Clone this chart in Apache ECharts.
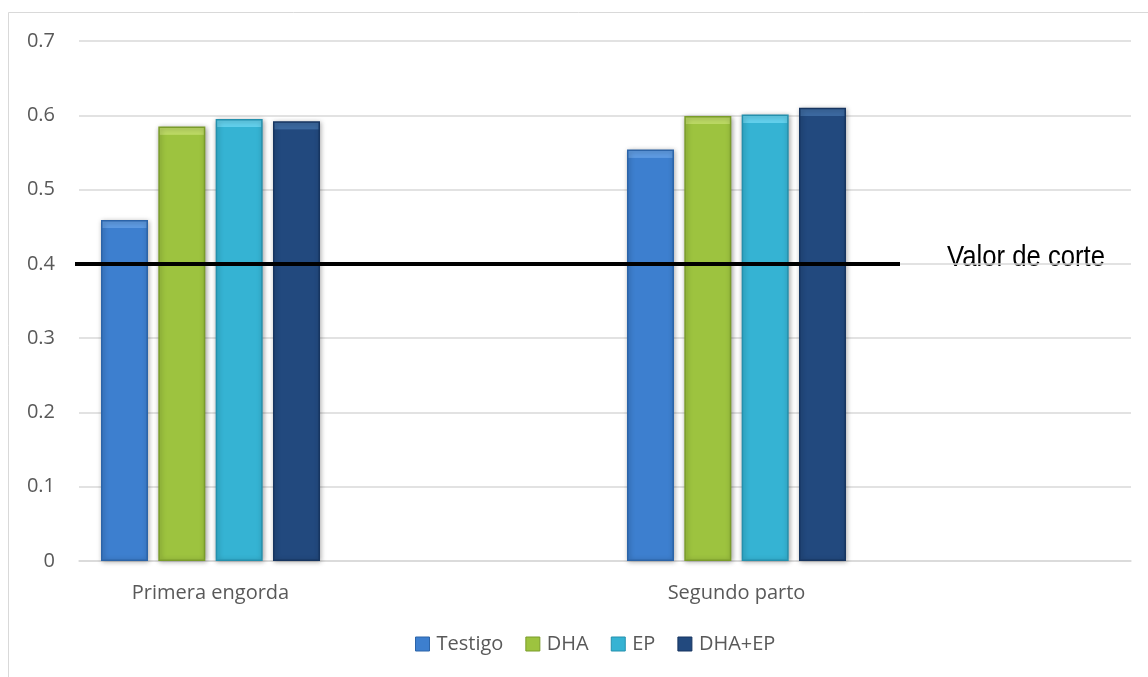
<!DOCTYPE html>
<html>
<head>
<meta charset="utf-8">
<script src="https://cdn.jsdelivr.net/npm/echarts@6/dist/echarts.min.js"></script>
<style>
  html, body { margin: 0; padding: 0; background: #fff; }
  #chart { width: 1148px; height: 677px; }
</style>
</head>
<body>
<div id="chart"></div>
<script>
// categories (Excel sheet had blank rows between groups)
const categories = ['Primera engorda', '', 'Segundo parto', ''];
const seriesNames = ['Testigo', 'DHA', 'EP', 'DHA+EP'];
const testigo = [0.459, null, 0.554, null];
const dha = [0.585, null, 0.599, null];
const ep = [0.595, null, 0.601, null];
const dhaEp = [0.592, null, 0.610, null];
const cutValue = 0.4;
const cutLabel = 'Valor de corte';

const colors = ['#3d7fcf', '#9dc33f', '#35b3d3', '#22497e'];
const tops = ['#5e9be2', '#bcd964', '#62d0ec', '#3c69a0'];
const edges = ['#2c64a8', '#7a9c2a', '#2490ad', '#173560'];

const textFont = "'Open Sans', 'Noto Sans', sans-serif";
const plotH = 520, yMax = 0.7, bevel = 8;

// bevel look: lighter strip at the top of each bar
function barItem(v, i) {
  if (v == null) return v;
  const h = v / yMax * plotH;
  const f = Math.min(bevel / h, 0.5);
  return {
    value: v,
    itemStyle: {
      color: {
        type: 'linear', x: 0, y: 0, x2: 0, y2: 1,
        colorStops: [
          { offset: 0, color: tops[i] },
          { offset: f, color: tops[i] },
          { offset: f + 0.001, color: colors[i] },
          { offset: 1, color: colors[i] }
        ]
      }
    }
  };
}

const myChart = echarts.init(document.getElementById('chart'));
const data = [testigo, dha, ep, dhaEp];

const series = data.map((vals, i) => ({
  name: seriesNames[i],
  type: 'bar',
  data: vals.map(v => barItem(v, i)),
  barWidth: 47,
  barGap: '22%',
  itemStyle: {
    color: colors[i],
    borderColor: edges[i],
    borderWidth: 1.5,
    shadowColor: 'rgba(0,0,0,0.35)',
    shadowBlur: 5,
    shadowOffsetX: 1,
    shadowOffsetY: 1
  }
}));

series[0].markLine = {
  symbol: 'none',
  silent: true,
  label: { show: false },
  lineStyle: { color: '#000', width: 4, type: 'solid' },
  data: [[{ x: 75, yAxis: cutValue }, { x: 900, yAxis: cutValue }]]
};

const option = {
  animation: false,
  backgroundColor: '#fff',
  color: colors,
  grid: { left: 79, right: 17, top: 41, bottom: 116, containLabel: false },
  legend: {
    bottom: 18,
    left: 410,
    itemWidth: 14,
    itemHeight: 14,
    itemGap: 22,
    icon: 'rect',
    textStyle: { fontFamily: textFont, fontSize: 20, color: '#595959', padding: [0, 0, 0, 2] },
    data: seriesNames.map((n, i) => ({ name: n, itemStyle: { color: colors[i], borderColor: edges[i], borderWidth: 1, shadowBlur: 0 } }))
  },
  xAxis: {
    type: 'category',
    data: categories,
    axisLine: { show: true, lineStyle: { color: '#d9d9d9', width: 1.5 } },
    axisTick: { show: false },
    axisLabel: { color: '#595959', fontFamily: textFont, fontSize: 20, margin: 22 },
    splitLine: { show: false }
  },
  yAxis: {
    type: 'value',
    min: 0,
    max: yMax,
    interval: 0.1,
    axisLine: { show: false },
    axisTick: { show: false },
    axisLabel: {
      color: '#595959', fontFamily: textFont, fontSize: 20, margin: 24,
      formatter: v => (v === 0 ? '0' : v.toFixed(1))
    },
    splitLine: { lineStyle: { color: '#d9d9d9', width: 1.5 } }
  },
  graphic: [
    {
      type: 'rect',
      shape: { x: 8.5, y: 12.5, width: 1200, height: 700 },
      style: { fill: 'none', stroke: '#d9d9d9', lineWidth: 1 },
      silent: true,
      z: -1
    },
    {
      type: 'text',
      x: 947,
      y: 243,
      scaleX: 0.856,
      style: {
        text: cutLabel,
        font: "30px 'Liberation Sans', Arial, sans-serif",
        fill: '#000'
      }
    }
  ],
  series: series
};

myChart.setOption(option);
</script>
</body>
</html>
